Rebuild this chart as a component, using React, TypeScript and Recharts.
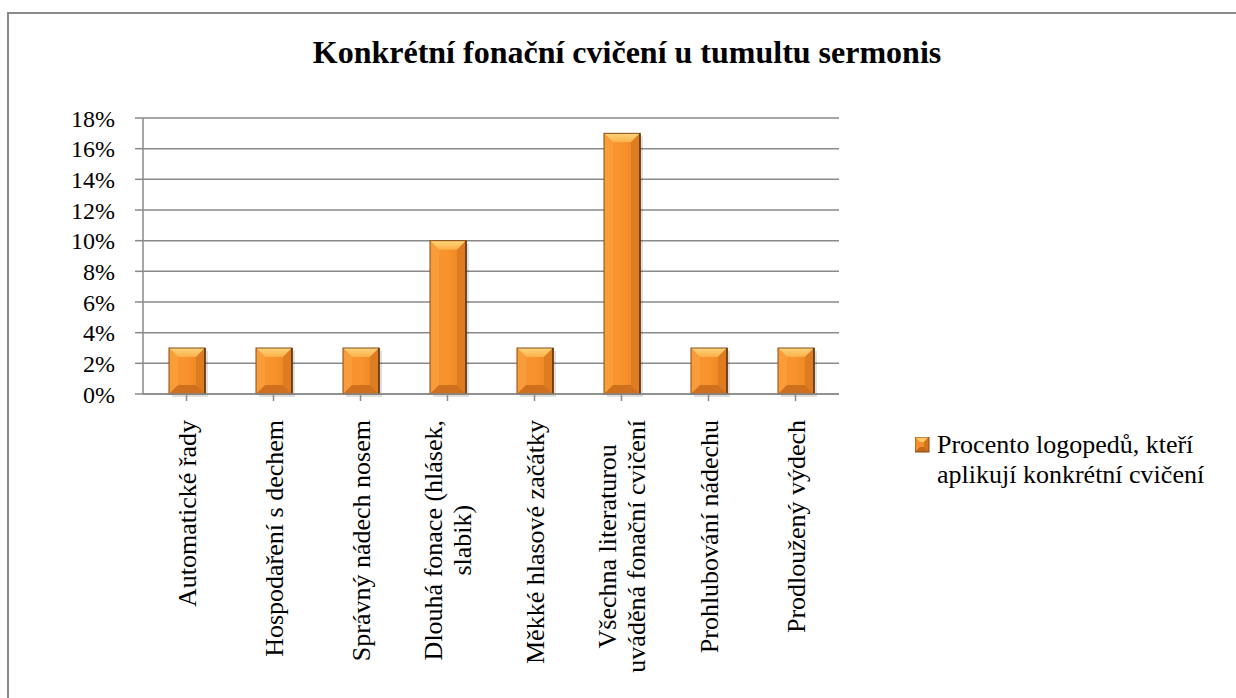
import { Bar, BarChart, CartesianGrid, XAxis, YAxis } from "recharts";

const categories = [
  "Automatické řady",
  "Hospodaření s dechem",
  "Správný nádech nosem",
  "Dlouhá fonace (hlásek,\nslabik)",
  "Měkké hlasové začátky",
  "Všechna literaturou\nuváděná fonační cvičení",
  "Prohlubování nádechu",
  "Prodloužený výdech",
];
const percentValues = [3, 3, 3, 10, 3, 17, 3, 3];
const yTicks = [0, 2, 4, 6, 8, 10, 12, 14, 16, 18];
const seriesName = "Procento logopedů, kteří\naplikují konkrétní cvičení";
const chartTitle = "Konkrétní fonační cvičení u tumultu sermonis";

const data = categories.map((name, i) => ({ name, value: percentValues[i] }));

const FONT = "'Liberation Serif', 'Times New Roman', serif";
const GRID = "#8a8a8a";
const LABEL_SIZE = 26;

let ctx: CanvasRenderingContext2D | null = null;
function textWidth(s: string, size: number) {
  if (!ctx) ctx = document.createElement("canvas").getContext("2d");
  if (!ctx) return s.length * size * 0.45;
  ctx.font = `${size}px ${FONT}`;
  return ctx.measureText(s).width;
}

function BevelBar(props: any) {
  const { x, y, width, height } = props;
  if (!height || height <= 0) return null;
  const b = Math.min(10, width / 4, height / 3);
  const r = x + width;
  const btm = y + height;
  return (
    <g>
      <rect x={x + 3} y={y + 3} width={width} height={height} fill="#000" opacity={0.12} />
      <rect x={x} y={y} width={width} height={height} fill="url(#barFace)" />
      <polygon points={`${x},${y} ${r},${y} ${r - b},${y + b} ${x + b},${y + b}`} fill="url(#barTop)" />
      <polygon points={`${x},${y} ${x + b},${y + b} ${x + b},${btm - b} ${x},${btm}`} fill="#f99c3a" />
      <polygon points={`${r},${y} ${r},${btm} ${r - b},${btm - b} ${r - b},${y + b}`} fill="#de7c22" />
      <polygon points={`${x},${btm} ${x + b},${btm - b} ${r - b},${btm - b} ${r},${btm}`} fill="#cf701f" />
      <rect x={x} y={y} width={width} height={height} fill="none" stroke="#8a4a12" strokeWidth={1} />
      <line x1={r} y1={y} x2={r} y2={btm} stroke="#5e3210" strokeWidth={1.5} />
    </g>
  );
}

function CategoryTick(props: any) {
  const { x, payload } = props;
  const lines = String(payload.value).split("\n");
  const lh = 29;
  const maxW = Math.max(...lines.map((l) => textWidth(l, LABEL_SIZE)));
  const n = lines.length;
  return (
    <g transform={`translate(${x},420) rotate(-90)`}>
      {lines.map((line, i) => (
        <text
          key={i}
          x={-maxW / 2}
          y={(i - (n - 1) / 2) * lh + 9}
          textAnchor="middle"
          fontFamily={FONT}
          fontSize={LABEL_SIZE}
          fill="#000"
        >
          {line}
        </text>
      ))}
    </g>
  );
}

function LegendBox() {
  const lines = seriesName.split("\n");
  return (
    <div
      style={{
        position: "absolute",
        left: 915,
        top: 430,
        display: "flex",
        alignItems: "flex-start",
        fontFamily: FONT,
        fontSize: LABEL_SIZE,
        color: "#000",
      }}
    >
      <svg width={16} height={16} style={{ marginTop: 7, marginRight: 6 }}>
        <rect x={0} y={0} width={14} height={15} fill="#f58f2c" />
        <polygon points="0,0 14,0 9,5 5,5" fill="#ffc766" />
        <polygon points="14,0 14,15 9,10 9,5" fill="#d3731f" />
        <polygon points="0,15 5,10 9,10 14,15" fill="#c4671b" />
        <rect x={0} y={0} width={14} height={15} fill="none" stroke="#8a4a12" strokeWidth={1} />
      </svg>
      <div style={{ lineHeight: "30px" }}>
        {lines.map((l, i) => (
          <div key={i}>{l}</div>
        ))}
      </div>
    </div>
  );
}

export default function App() {
  return (
    <div style={{ position: "absolute", left: 0, top: 0, width: 1236, height: 698, background: "#fff", overflow: "hidden" }}>
      <div
        style={{
          position: "absolute",
          left: 7,
          top: 12,
          right: -10,
          bottom: -10,
          borderTop: "2px solid #898989",
          borderLeft: "2px solid #898989",
        }}
      />
      <div
        style={{
          position: "absolute",
          left: 0,
          width: 1254,
          top: 34,
          textAlign: "center",
          fontFamily: FONT,
          fontWeight: "bold",
          fontSize: 32,
          color: "#000",
        }}
      >
        {chartTitle}
      </div>
      <BarChart
        width={1236}
        height={698}
        data={data}
        margin={{ top: 118, right: 397, left: 0, bottom: 14 }}
        barSize={36}
        style={{ position: "absolute", left: 0, top: 0 }}
      >
        <defs>
          <linearGradient id="barFace" x1="0" y1="0" x2="1" y2="0">
            <stop offset="0" stopColor="#f7952f" />
            <stop offset="0.5" stopColor="#f8922c" />
            <stop offset="1" stopColor="#e9821f" />
          </linearGradient>
          <linearGradient id="barTop" x1="0" y1="0" x2="0" y2="1">
            <stop offset="0" stopColor="#ffd67e" />
            <stop offset="1" stopColor="#fbb048" />
          </linearGradient>
        </defs>
        <CartesianGrid vertical={false} stroke={GRID} strokeWidth={1.5} />
        <XAxis
          dataKey="name"
          interval={0}
          height={290}
          tick={<CategoryTick />}
          tickLine={{ stroke: GRID, strokeWidth: 1.5 }}
          axisLine={{ stroke: GRID, strokeWidth: 1.5 }}
          tickSize={7}
        />
        <YAxis
          width={143}
          domain={[0, 18]}
          ticks={yTicks}
          interval={0}
          tickFormatter={(v: number) => `${v}%`}
          tick={{ fontFamily: FONT, fontSize: 24, fill: "#000" }}
          tickLine={{ stroke: GRID, strokeWidth: 1.5 }}
          axisLine={{ stroke: GRID, strokeWidth: 1.5 }}
          tickSize={8}
          tickMargin={20}
        />
        <Bar dataKey="value" name={seriesName} shape={<BevelBar />} isAnimationActive={false} />
      </BarChart>
      <LegendBox />
    </div>
  );
}
